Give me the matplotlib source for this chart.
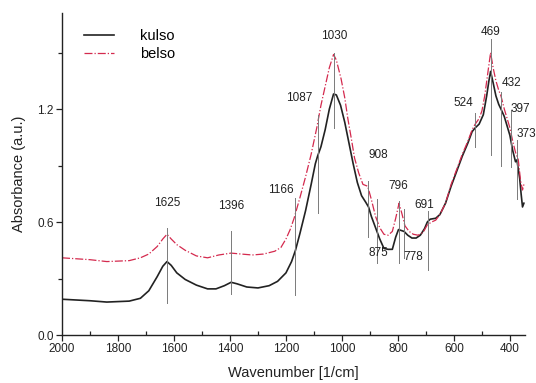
import matplotlib
matplotlib.use("Agg")
import matplotlib.pyplot as plt
from matplotlib.ticker import MultipleLocator

plt.rcParams['font.family'] = ['Liberation Sans', 'DejaVu Sans']

# --- data -------------------------------------------------------------
kulso_wn = [2000, 1900, 1840, 1760, 1720, 1690, 1660, 1640, 1625, 1610, 1590, 1560,
            1520, 1480, 1450, 1420, 1396, 1375, 1340, 1300, 1260, 1230, 1200, 1180,
            1166, 1150, 1130, 1110, 1095, 1087, 1075, 1060, 1045, 1030, 1020, 1005,
            990, 975, 960, 945, 930, 915, 905, 895, 880, 865, 850, 835, 820, 808,
            798, 788, 778, 765, 750, 735, 720, 705, 695, 685, 665, 650, 630, 610,
            590, 570, 550, 535, 524, 510, 495, 483, 475, 469, 460, 450, 440, 432,
            420, 410, 400, 390, 380, 375, 370, 365, 360, 355, 350]
kulso_abs = [0.19, 0.182, 0.175, 0.18, 0.195, 0.235, 0.31, 0.365, 0.39, 0.37, 0.33, 0.295,
             0.265, 0.245, 0.245, 0.262, 0.28, 0.272, 0.255, 0.25, 0.262, 0.285, 0.33, 0.39,
             0.45, 0.54, 0.66, 0.80, 0.91, 0.95, 1.00, 1.09, 1.20, 1.28, 1.275, 1.22,
             1.13, 1.02, 0.91, 0.81, 0.74, 0.705, 0.68, 0.63, 0.57, 0.51, 0.46, 0.455, 0.455, 0.52,
             0.56, 0.555, 0.55, 0.53, 0.515, 0.515, 0.53, 0.565, 0.60, 0.615, 0.62, 0.64, 0.70, 0.79,
             0.87, 0.95, 1.02, 1.08, 1.10, 1.12, 1.17, 1.27, 1.35, 1.40, 1.34, 1.27, 1.225, 1.20,
             1.16, 1.11, 1.06, 0.98, 0.92, 0.93, 0.88, 0.83, 0.75, 0.68, 0.70]

belso_wn = [2000, 1900, 1840, 1760, 1720, 1690, 1660, 1640, 1625, 1610, 1590, 1560,
            1520, 1480, 1440, 1396, 1360, 1320, 1280, 1240, 1218, 1200, 1185, 1171,
            1150, 1130, 1110, 1090, 1075, 1057, 1045, 1030, 1020, 1003, 990, 979,
            965, 955, 940, 925, 908, 895, 880, 865, 850, 835, 820, 808, 796, 785,
            775, 760, 745, 728, 710, 695, 680, 665, 650, 630, 610, 590, 570, 550,
            535, 524, 510, 500, 490, 480, 469, 460, 450, 440, 432, 420, 410, 400,
            390, 380, 370, 362, 355, 350]
belso_abs = [0.41, 0.40, 0.39, 0.395, 0.41, 0.43, 0.47, 0.51, 0.535, 0.51, 0.48, 0.45,
             0.42, 0.41, 0.425, 0.435, 0.43, 0.425, 0.43, 0.445, 0.465, 0.51, 0.56, 0.62,
             0.73, 0.84, 0.96, 1.10, 1.22, 1.34, 1.42, 1.49, 1.46, 1.36, 1.26, 1.15,
             1.03, 0.94, 0.86, 0.80, 0.79, 0.72, 0.63, 0.57, 0.535, 0.53, 0.55, 0.62, 0.70, 0.64,
             0.58, 0.55, 0.535, 0.53, 0.545, 0.585, 0.60, 0.61, 0.64, 0.70, 0.80, 0.88, 0.96, 1.03,
             1.09, 1.12, 1.15, 1.19, 1.27, 1.38, 1.50, 1.42, 1.35, 1.30, 1.27, 1.20, 1.15, 1.10,
             1.03, 0.97, 0.93, 0.82, 0.77, 0.80]

# peak markers: position, line bottom, line top, label text, label x, label y
peak_pos = [1625, 1396, 1166, 1087, 1030, 908, 875, 796, 778, 691, 524, 469, 432, 397, 373]
peak_lo = [0.17, 0.22, 0.21, 0.65, 1.10, 0.52, 0.38, 0.38, 0.41, 0.345, 1.00, 0.955, 0.90, 0.89, 0.72]
peak_hi = [0.57, 0.55, 0.73, 1.17, 1.50, 0.82, 0.72, 0.71, 0.67, 0.66, 1.18, 1.57, 1.29, 1.195, 1.035]
peak_labels = ['1625', '1396', '1166', '1087', '1030', '908', '875', '796', '778', '691',
               '524', '469', '432', '397', '373']
label_x = [1625, 1396, 1218, 1153, 1028, 870, 870, 798, 745, 705, 567, 469, 393, 363, 342]
label_y = [0.70, 0.685, 0.77, 1.26, 1.59, 0.955, 0.435, 0.79, 0.415, 0.69, 1.23, 1.61, 1.34, 1.20, 1.07]

x_ticks = [2000, 1800, 1600, 1400, 1200, 1000, 800, 600, 400]
y_ticks = [0.0, 0.6, 1.2]

# --- figure -----------------------------------------------------------
fig = plt.figure(figsize=(5.36, 3.83), dpi=100)
ax = fig.add_axes([0.1157, 0.1253, 0.8633, 0.8407])

ax.plot(kulso_wn, kulso_abs, color='#222222', lw=1.2, label='kulso')
ax.plot(belso_wn, belso_abs, color='#d42a4e', lw=0.9, ls='-.', label='belso')

for p, lo, hi in zip(peak_pos, peak_lo, peak_hi):
    ax.plot([p, p], [lo, hi], color='#7a7a7a', lw=0.7)
for t, lx, ly in zip(peak_labels, label_x, label_y):
    ax.text(lx, ly, t, ha='center', va='center', fontsize=8.5, color='#222222', clip_on=False)

ax.set_xlim(2000, 347)
ax.set_ylim(0, 1.71)
ax.set_xticks(x_ticks)
ax.set_yticks(y_ticks)
ax.set_yticklabels(['0.0', '0.6', '1.2'])
ax.xaxis.set_minor_locator(MultipleLocator(100))
ax.yaxis.set_minor_locator(MultipleLocator(0.3))

for s in ['top', 'right']:
    ax.spines[s].set_visible(False)
for s in ['left', 'bottom']:
    ax.spines[s].set_linewidth(1.0)
    ax.spines[s].set_color('#222222')

ax.tick_params(axis='both', which='major', direction='out', length=4, width=0.9,
               labelsize=8.5, colors='#222222', pad=2)
ax.tick_params(axis='x', which='minor', direction='in', length=3, width=0.9, colors='#222222')
ax.tick_params(axis='y', which='minor', direction='out', length=3, width=0.9, colors='#222222')

ax.set_xlabel('Wavenumber [1/cm]', fontsize=10.5, color='#222222', labelpad=8)
ax.set_ylabel('Absorbance (a.u.)', fontsize=10.5, color='#222222', labelpad=8)

leg = ax.legend(loc='upper left', bbox_to_anchor=(0.02, 0.99), frameon=False, fontsize=10.5,
                handlelength=2.0, handletextpad=1.8, labelspacing=0.25)

fig.savefig('out.png', dpi=100)
